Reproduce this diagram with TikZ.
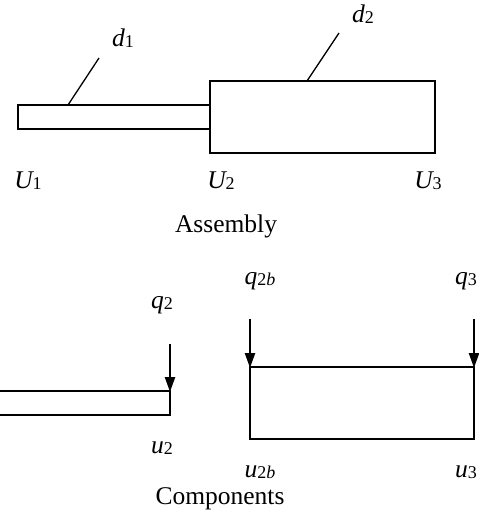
\documentclass[tikz,border=0pt]{standalone}
\usepackage{fontspec}
\setmainfont{Liberation Serif}
\usetikzlibrary{arrows.meta}
\newcommand{\lbl}[2]{{\itshape #1}\raisebox{-1.5pt}{\fontsize{18}{18}\selectfont #2}}
\tikzset{
  part/.style={draw, line width=1.6pt},
  lead/.style={line width=1.3pt},
  load/.style={line width=2.4pt, -{Triangle[length=15pt,width=10pt]}},
  txt/.style={font=\fontsize{25.5}{29}\selectfont, anchor=base, inner sep=0pt},
}
\begin{document}
\begin{tikzpicture}[x=1pt,y=-1pt]
\useasboundingbox (0,0) rectangle (479,525);
% Assembly
\draw[part] (18,105) rectangle (210,129);
\draw[part] (210,81) rectangle (435,153);
\coordinate (d1a) at (68,105);
\coordinate (d1b) at (99,58);
\coordinate (d2a) at (307,81);
\coordinate (d2b) at (339,33);
\draw[lead] (d1a) -- (d1b);
\draw[lead] (d2a) -- (d2b);
\node[txt] (d1) at (123,46) {\lbl{d}{1}};
\node[txt] (d2) at (363,22) {\lbl{d}{2}};
\node[txt] (U1) at (28,188) {\lbl{U}{1}};
\node[txt] (U2) at (221,188) {\lbl{U}{2}};
\node[txt] (U3) at (428,188) {\lbl{U}{3}};
\node[txt] (asm) at (226,232) {Assembly};
% Components
\draw[part] (-5,391) -- (170,391) -- (170,415) -- (-5,415);
\coordinate (q2top) at (170,344);
\coordinate (q2bot) at (170,392);
\draw[load] (q2top) -- (q2bot);
\draw[part] (250,367) rectangle (474,439);
\coordinate (qbtop) at (250,319);
\coordinate (qbbot) at (250,368);
\coordinate (q3top) at (474,319);
\coordinate (q3bot) at (474,368);
\draw[load] (qbtop) -- (qbbot);
\draw[load] (q3top) -- (q3bot);
\node[txt] (q2) at (162,308) {\lbl{q}{2}};
\node[txt] (u2) at (162,453) {\lbl{u}{2}};
\node[txt] (q2b) at (260,284) {\lbl{q}{2\textit{b}}};
\node[txt] (q3) at (466,284) {\lbl{q}{3}};
\node[txt] (u2b) at (260,477) {\lbl{u}{2\textit{b}}};
\node[txt] (u3) at (466,477) {\lbl{u}{3}};
\node[txt] (cmp) at (220,504) {Components};
\end{tikzpicture}
\end{document}
